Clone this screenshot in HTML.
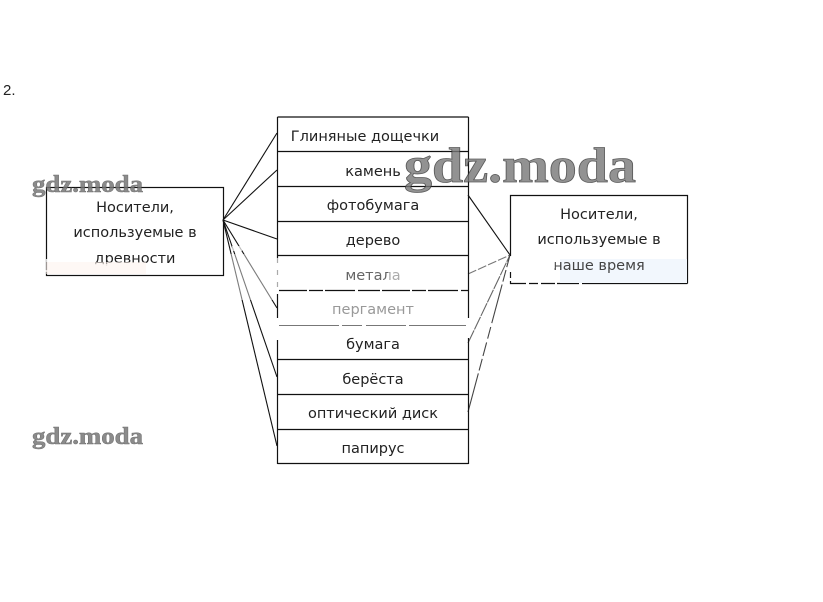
<!DOCTYPE html>
<html>
<head>
<meta charset="utf-8">
<style>
html,body{margin:0;padding:0;background:#fff;}
#p{position:relative;width:823px;height:602px;overflow:hidden;background:#fff;}
svg{position:absolute;left:0;top:0;}
text{font-family:"DejaVu Sans","Liberation Sans",sans-serif;fill:#222;font-size:14.5px;text-anchor:middle;}
.w{font-family:"Liberation Serif",serif;font-weight:bold;text-anchor:start;}
</style>
</head>
<body>
<div id="p">
<svg width="823" height="602" viewBox="0 0 823 602">
  <text x="3" y="95" style="text-anchor:start;font-family:'Liberation Sans',sans-serif;font-size:15px">2.</text>

  <!-- connectors -->
  <g stroke="#111" stroke-width="1.1" fill="none">
    <line x1="223" y1="220" x2="277" y2="133"/>
    <line x1="223" y1="220" x2="277" y2="170"/>
    <line x1="223" y1="220" x2="277" y2="239"/>
    <line x1="223" y1="220" x2="277" y2="308"/>
    <line x1="223" y1="220" x2="277" y2="377"/>
    <line x1="223" y1="220" x2="277" y2="446"/>
    <line x1="468" y1="195" x2="510" y2="255"/>
    <line x1="468" y1="274" x2="510" y2="255" stroke="#777" stroke-dasharray="9 2"/>
    <line x1="468" y1="343" x2="510" y2="255" stroke="#666" stroke-dasharray="14 1"/>
    <line x1="468" y1="412" x2="510" y2="255" stroke="#444" stroke-dasharray="40 3 12 3 14 4 12 4"/>
  </g>

  <!-- list -->
  <g stroke="#111" stroke-width="1.2" fill="none">
    <line x1="277.5" y1="117" x2="468.5" y2="117"/>
    <line x1="277.5" y1="463.5" x2="468.5" y2="463.5"/>
    <line x1="277.5" y1="117" x2="277.5" y2="258"/>
    <line x1="277.5" y1="258" x2="277.5" y2="290" stroke="#aaa" stroke-dasharray="5 7"/>
    <line x1="277.5" y1="294" x2="277.5" y2="318"/>
    <line x1="277.5" y1="340" x2="277.5" y2="464"/>
    <line x1="468.5" y1="117" x2="468.5" y2="318"/>
    <line x1="468.5" y1="338" x2="468.5" y2="464"/>
    <line x1="277" y1="151.5" x2="468" y2="151.5"/>
    <line x1="277" y1="186.5" x2="468" y2="186.5"/>
    <line x1="277" y1="221.5" x2="468" y2="221.5"/>
    <line x1="277" y1="255.5" x2="468" y2="255.5"/>
    <line x1="279" y1="290.5" x2="468" y2="290.5" stroke-dasharray="28 2 14 2 30 3 22 2"/>
    <line x1="279" y1="325.5" x2="466" y2="325.5" stroke="#777" stroke-width="1" stroke-dasharray="60 3 20 4 40 3"/>
    <line x1="277" y1="359.5" x2="468" y2="359.5"/>
    <line x1="277" y1="394.5" x2="468" y2="394.5"/>
    <line x1="277" y1="429.5" x2="468" y2="429.5"/>
  </g>

  <!-- side boxes -->
  <g stroke="#111" stroke-width="1.2" fill="none">
    <rect x="46.5" y="187.5" width="177" height="88"/>
    <path d="M510.5 256V195.5H687.5V283.5"/>
    <path d="M510.5 272V283.5H687.5" stroke-dasharray="6 3 18 3 9 3 14 2 22 3 100 0"/>
  </g>
  <rect x="560" y="259" width="127" height="24" fill="#f2f7fd"/>

  <!-- labels -->
  <text x="365" y="141">Глиняные дощечки</text>
  <text x="373" y="176">камень</text>
  <text x="373" y="210">фотобумага</text>
  <text x="373" y="245">дерево</text>
  <text x="373" y="280" style="fill:#666">метала</text>
  <text x="373" y="314" style="fill:#999">пергамент</text>
  <text x="373" y="349">бумага</text>
  <text x="373" y="384">берёста</text>
  <text x="373" y="418">оптический диск</text>
  <text x="373" y="453">папирус</text>

  <text x="135" y="212">Носители,</text>
  <text x="135" y="237">используемые в</text>
  <text x="135" y="263">древности</text>

  <text x="599" y="219">Носители,</text>
  <text x="599" y="244">используемые в</text>
  <text x="599" y="270" style="fill:#444">наше время</text>

  <!-- white smear -->
  <g fill="#fff">
    <rect x="92" y="264" width="90" height="8" opacity=".8"/>
    <rect x="46" y="259" width="50" height="3" opacity=".8"/>
    <rect x="226" y="254" width="50" height="46" opacity=".45"/>
    <rect x="232" y="246" width="10" height="5" opacity=".7"/>
    <rect x="388" y="272" width="30" height="10" opacity=".45"/>
    <rect x="515" y="260" width="40" height="8" opacity=".5"/>
    <rect x="40" y="270" width="170" height="2" opacity=".7"/>
  </g>
  <rect x="46" y="262" width="100" height="12" fill="#fdf3ee" opacity=".6"/>

  <!-- watermarks -->
  <text class="w" x="32" y="192" textLength="111" lengthAdjust="spacingAndGlyphs" style="font-size:24px;fill:#777;stroke:#555;stroke-width:.5;opacity:.85">gdz.moda</text>
  <text class="w" x="32" y="444" textLength="111" lengthAdjust="spacingAndGlyphs" style="font-size:24px;fill:#777;stroke:#555;stroke-width:.5;opacity:.85">gdz.moda</text>
  <text class="w" x="404" y="182" textLength="232" lengthAdjust="spacingAndGlyphs" style="font-size:50px;fill:#777;stroke:#333;stroke-width:.8;opacity:.8">gdz.moda</text>
</svg>
</div>
</body>
</html>
